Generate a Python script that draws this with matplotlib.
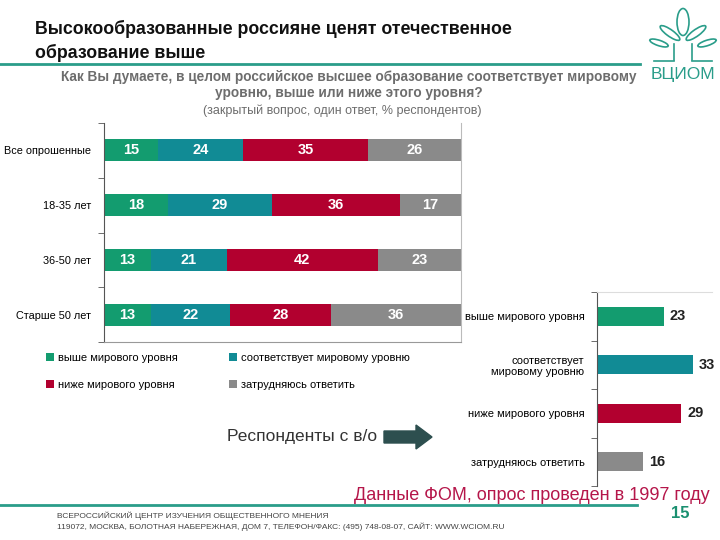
import numpy as np
import matplotlib.pyplot as plt
from matplotlib.patches import Ellipse, FancyArrow
from matplotlib.lines import Line2D

plt.rcParams['font.family'] = ['Liberation Sans', 'DejaVu Sans']

# data
groups = ['Все опрошенные', '18-35 лет', '36-50 лет', 'Старше 50 лет']
answers = ['выше мирового уровня', 'соответствует мировому уровню',
           'ниже мирового уровня', 'затрудняюсь ответить']
above = [15, 18, 13, 13]
equal = [24, 29, 21, 22]
below = [35, 36, 42, 28]
dunno = [26, 17, 23, 36]

higher_ed_labels = ['выше мирового уровня', 'соответствует\nмировому уровню',
                    'ниже мирового уровня', 'затрудняюсь ответить']
higher_ed = [23, 33, 29, 16]

colors = ['#139c6f', '#118b95', '#b2002f', '#8a8a8a']
teal = '#2a9d8a'

fig = plt.figure(figsize=(7.2, 5.4), dpi=100)

# --- header
fig.text(35/720, 1-41/540, 'Высокообразованные россияне ценят отечественное\nобразование выше',
         fontsize=12.8, fontweight='bold', ha='left', va='center', linespacing=1.45, color='#111111')
fig.add_artist(Line2D([0, 640/720], [1-64/540, 1-64/540], color=teal, lw=2))
fig.text(349/720, 1-85/540, 'Как Вы думаете, в целом российское высшее образование соответствует мировому\nуровню, выше или ниже этого уровня?',
         fontsize=9.8, fontweight='bold', ha='center', va='center', color='#6d6d6d', linespacing=1.25)
fig.text(342/720, 1-111/540, '(закрытый вопрос, один ответ, % респондентов)',
         fontsize=9, ha='center', va='center', color='#6d6d6d')

# logo (rough)
lx, ly = 683/720, 1-40/540
for dx, dy, w, h, ang in [(0, 18, 12, 27, 0), (-13, 7, 8, 20, 45), (13, 7, 8, 20, -45),
                          (-24, -3, 7, 15, 65), (24, -3, 7, 15, -65)]:
    fig.add_artist(Ellipse((lx + dx/720, ly + dy/540), w/720, h/540, angle=ang,
                           fill=False, ec=teal, lw=1.2, transform=fig.transFigure))
fig.add_artist(Line2D([lx - 9/720, lx - 9/720], [ly - 4/540, ly - 20/540], color=teal, lw=1.2))
fig.add_artist(Line2D([lx + 9/720, lx + 9/720], [ly - 4/540, ly - 20/540], color=teal, lw=1.2))
fig.add_artist(Line2D([654/720, lx - 9/720], [ly - 21/540, ly - 21/540], color=teal, lw=1.2))
fig.add_artist(Line2D([lx + 9/720, 712/720], [ly - 21/540, ly - 21/540], color=teal, lw=1.2))
fig.text(lx, 1-75/540, 'ВЦИОМ', fontsize=12.5, color=teal, ha='center', va='center')

# --- main stacked bars (100% stacked)
ax = fig.add_axes([104/720, 1-342/540, 357/720, 219/540])
y = np.arange(len(groups))
series = [above, equal, below, dunno]
totals = np.sum(series, axis=0)
left = np.zeros(len(groups))
for vals, c, name in zip(series, colors, answers):
    widths = np.array(vals) / totals * 100
    bars = ax.barh(y, widths, left=left, height=0.4, color=c, label=name)
    for b, v in zip(bars, vals):
        ax.text(b.get_x() + b.get_width()/2, b.get_y() + b.get_height()/2, str(v),
                ha='center', va='center', color='white', fontsize=10.5, fontweight='bold')
    left += widths
ax.set_xlim(0, 100)
ax.set_ylim(3.5, -0.5)
ax.set_xticks([])
ax.set_yticks(y)
ax.set_yticklabels(groups, fontsize=7.8)
ax.tick_params(axis='y', which='major', length=0, pad=9)
ax.set_yticks(np.arange(-0.5, 4, 1), minor=True)
ax.tick_params(axis='y', which='minor', length=4, color='#555555')
ax.spines['top'].set_visible(False)
ax.spines['left'].set_color('#555555')
ax.spines['right'].set_color('#bbbbbb')
ax.spines['bottom'].set_color('#999999')

handles, labels = ax.get_legend_handles_labels()
order = [0, 2, 1, 3]
fig.legend([handles[i] for i in order], [labels[i] for i in order], ncol=2,
           loc='upper left', bbox_to_anchor=(36/720, 1-343/540), frameon=False,
           fontsize=8, handlelength=0.7, handleheight=0.7, columnspacing=4.6,
           labelspacing=1.5, handletextpad=0.4)

# --- right chart (respondents with higher education)
ax2 = fig.add_axes([597/720, 1-486/540, 115/720, 194/540])
y2 = np.arange(len(higher_ed))
bars2 = ax2.barh(y2, higher_ed, height=0.4, color=colors)
for b, v in zip(bars2, higher_ed):
    ax2.text(b.get_width() + 2, b.get_y() + b.get_height()/2, str(v),
             ha='left', va='center', fontsize=10.5, fontweight='bold', color='#222222')
ax2.set_xlim(0, 39.6)
ax2.set_ylim(3.5, -0.5)
ax2.set_xticks([])
ax2.set_yticks(y2)
ax2.set_yticklabels(higher_ed_labels, fontsize=8, linespacing=1.1)
ax2.tick_params(axis='y', which='major', length=0, pad=9)
ax2.set_yticks(np.arange(-0.5, 4, 1), minor=True)
ax2.tick_params(axis='y', which='minor', length=4, color='#555555')
ax2.spines['top'].set_color('#dddddd')
ax2.spines['right'].set_visible(False)
ax2.spines['bottom'].set_visible(False)
ax2.spines['left'].set_color('#555555')

fig.text(227/720, 1-437/540, 'Респонденты с в/о', fontsize=12.5, color='#333333',
         ha='left', va='center')
fig.add_artist(FancyArrow(384/720, 1-437/540, 48/720, 0, width=12/540, head_width=24/540,
                          head_length=16/720, length_includes_head=True,
                          color='#2d4f4f', transform=fig.transFigure))

# --- footer
fig.add_artist(Line2D([0, 637/720], [1-505/540, 1-505/540], color=teal, lw=2))
fig.text(710/720, 1-496/540, 'Данные ФОМ, опрос проведен в 1997 году', fontsize=13,
         color='#b5164a', ha='right', va='center')
fig.text(57/720, 1-516/540, 'ВСЕРОССИЙСКИЙ ЦЕНТР ИЗУЧЕНИЯ ОБЩЕСТВЕННОГО МНЕНИЯ',
         fontsize=6.0, color='#444444', ha='left', va='center')
fig.text(57/720, 1-527/540, '119072, МОСКВА, БОЛОТНАЯ НАБЕРЕЖНАЯ, ДОМ 7, ТЕЛЕФОН/ФАКС: (495) 748-08-07, САЙТ: WWW.WCIOM.RU',
         fontsize=6.0, color='#444444', ha='left', va='center')
fig.text(680/720, 1-513/540, '15', fontsize=12, fontweight='bold', color='#1a9070',
         ha='center', va='center')

fig.savefig('out.png', dpi=100)
